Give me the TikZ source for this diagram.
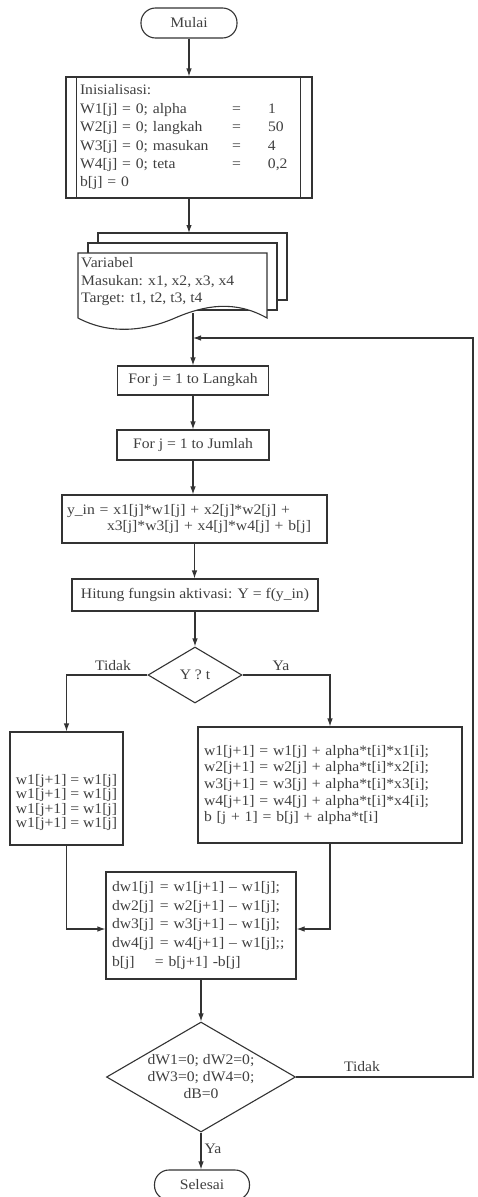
\documentclass[tikz,border=0pt]{standalone}
\usepackage{fontspec}
\setmainfont{Liberation Serif}[FakeStretch=1.08]
\usetikzlibrary{shapes.geometric,arrows.meta}
\definecolor{tc}{gray}{0.25}
\definecolor{lc}{gray}{0.2}
\tikzset{
  ln/.style={draw=lc, line width=1.1pt},
  box/.style={ln, rectangle, fill=white, inner sep=0pt, text=tc},
  term/.style={box, rounded corners=14.5pt, minimum width=96pt, minimum height=30pt},
  dec/.style={ln, diamond, fill=white, inner sep=-4pt, text=tc, align=center},
  arr/.style={ln, -{Latex[length=8pt,width=5.5pt]}},
  lbl/.style={text=tc, inner sep=1pt},
}
\begin{document}
\begin{tikzpicture}[x=1pt,y=-1pt,font=\fontsize{14.5pt}{16pt}\selectfont]
\fill[white] (0,0) rectangle (478,1197);
\useasboundingbox (0,0) rectangle (478,1197);

% start
\node[term] (mulai) at (189,23) {Mulai};

% initialisation (predefined process)
\node[box, minimum width=246pt, minimum height=121pt, align=left, text width=218pt,
      font=\fontsize{14.5pt}{18.4pt}\selectfont] (init) at (189,137.5)
{Inisialisasi:\\
\makebox[152pt][l]{W1[j] = 0; alpha}\makebox[36pt][l]{=}1\\
\makebox[152pt][l]{W2[j] = 0; langkah}\makebox[36pt][l]{=}50\\
\makebox[152pt][l]{W3[j] = 0; masukan}\makebox[36pt][l]{=}4\\
\makebox[152pt][l]{W4[j] = 0; teta}\makebox[36pt][l]{=}0,2\\
b[j] = 0};
\draw[ln] ([xshift=11pt]init.north west) -- ([xshift=11pt]init.south west);
\draw[ln] ([xshift=-12pt]init.north east) -- ([xshift=-12pt]init.south east);

% multi-document
\draw[ln, fill=white] (98,233) rectangle (287,300);
\draw[ln, fill=white] (88,243) rectangle (277,310);
\draw[ln, fill=white] (78,253) -- (267,253) -- (267,318)
   .. controls (235,300) and (205,305) .. (175,318)
   .. controls (145,331) and (110,335) .. (78,318) -- cycle;
\node[lbl, anchor=west, align=left, font=\fontsize{14.5pt}{17.5pt}\selectfont] (doc) at (80,282)
{Variabel\\Masukan: x1, x2, x3, x4\\Target: t1, t2, t3, t4};
\coordinate (doctop) at (189,233);
\coordinate (docbot) at (193,313);
\coordinate (join) at (193,338);

% loops
\node[box, minimum width=151pt, minimum height=29pt] (forA) at (193,380.5) {For j = 1 to Langkah};
\node[box, minimum width=152pt, minimum height=30pt] (forB) at (193,445) {For j = 1 to Jumlah};

\node[box, minimum width=265pt, minimum height=48pt, align=left, text width=255pt,
      font=\fontsize{14.5pt}{16pt}\selectfont] (yin) at (194.5,519)
{y\_in = x1[j]*w1[j] + x2[j]*w2[j] +\\\hspace*{40pt}x3[j]*w3[j] + x4[j]*w4[j] + b[j]};

\node[box, minimum width=246pt, minimum height=32pt] (hit) at (195,595)
{Hitung fungsin aktivasi: Y = f(y\_in)};

\node[dec, aspect=1.68, minimum width=94pt, minimum height=56pt] (d1) at (195,675) {Y ? t};
\node[lbl] (tidak1) at (113,666) {Tidak};
\node[lbl] (ya1) at (281,666) {Ya};

\node[box, minimum width=113pt, minimum height=113pt,
      label={[name=lfttxt, lbl, align=left, font=\fontsize{14.5pt}{14.5pt}\selectfont, yshift=-14pt]center:{w1[j+1] = w1[j]\\w1[j+1] = w1[j]\\w1[j+1] = w1[j]\\w1[j+1] = w1[j]}}]
      (lft) at (66.5,788.5) {};

\node[box, minimum width=264pt, minimum height=116pt, align=left, text width=252pt,
      font=\fontsize{14.5pt}{16.7pt}\selectfont] (rgt) at (330,785)
{w1[j+1] = w1[j] + alpha*t[i]*x1[i];\\
w2[j+1] = w2[j] + alpha*t[i]*x2[i];\\
w3[j+1] = w3[j] + alpha*t[i]*x3[i];\\
w4[j+1] = w4[j] + alpha*t[i]*x4[i];\\
b [j + 1] = b[j] + alpha*t[i]};

\node[box, minimum width=190pt, minimum height=107pt, align=left, text width=178pt,
      font=\fontsize{14.5pt}{18.7pt}\selectfont] (dw) at (201,925.5)
{\makebox[48pt][l]{dw1[j]}= w1[j+1] – w1[j];\\
\makebox[48pt][l]{dw2[j]}= w2[j+1] – w1[j];\\
\makebox[48pt][l]{dw3[j]}= w3[j+1] – w1[j];\\
\makebox[48pt][l]{dw4[j]}= w4[j+1] – w1[j];;\\
\makebox[43pt][l]{b[j]}= b[j+1] -b[j]};

\node[dec, aspect=1.72, minimum width=189pt, minimum height=110pt,
      font=\fontsize{14.5pt}{17pt}\selectfont] (d2) at (201,1077)
{dW1=0; dW2=0;\\dW3=0; dW4=0;\\dB=0};
\node[lbl] (tidak2) at (362,1067) {Tidak};
\node[lbl] (ya2) at (213,1149) {Ya};

\node[term, minimum width=95pt] (sel) at (202,1185) {Selesai};
\coordinate (loopc) at (473,1077);

% connectors
\draw[arr] (mulai.south) -- (mulai.south |- init.north);
\draw[arr] (init.south) -- (doctop);
\draw[ln] (docbot) -- (join);
\draw[arr] (join) -- (join |- forA.north);
\draw[arr] (forA.south) -- (forA.south |- forB.north);
\draw[arr] (forB.south) -- (forB.south |- yin.north);
\draw[arr] (yin.south) -- (yin.south |- hit.north);
\draw[arr] (hit.south) -- (hit.south |- d1.north);
\draw[arr] (d1.west) -| (lft.north);
\draw[arr] (d1.east) -| (rgt.north);
\draw[arr] (lft.south) |- ([yshift=-3.5pt]dw.west);
\draw[arr] (rgt.south) |- ([yshift=-3.5pt]dw.east);
\draw[arr] (dw.south) -- (dw.south |- d2.north);
\draw[arr] (d2.south) -- (d2.south |- sel.north);
\draw[arr] (d2.east) -- (loopc) |- (join);
\end{tikzpicture}
\end{document}
